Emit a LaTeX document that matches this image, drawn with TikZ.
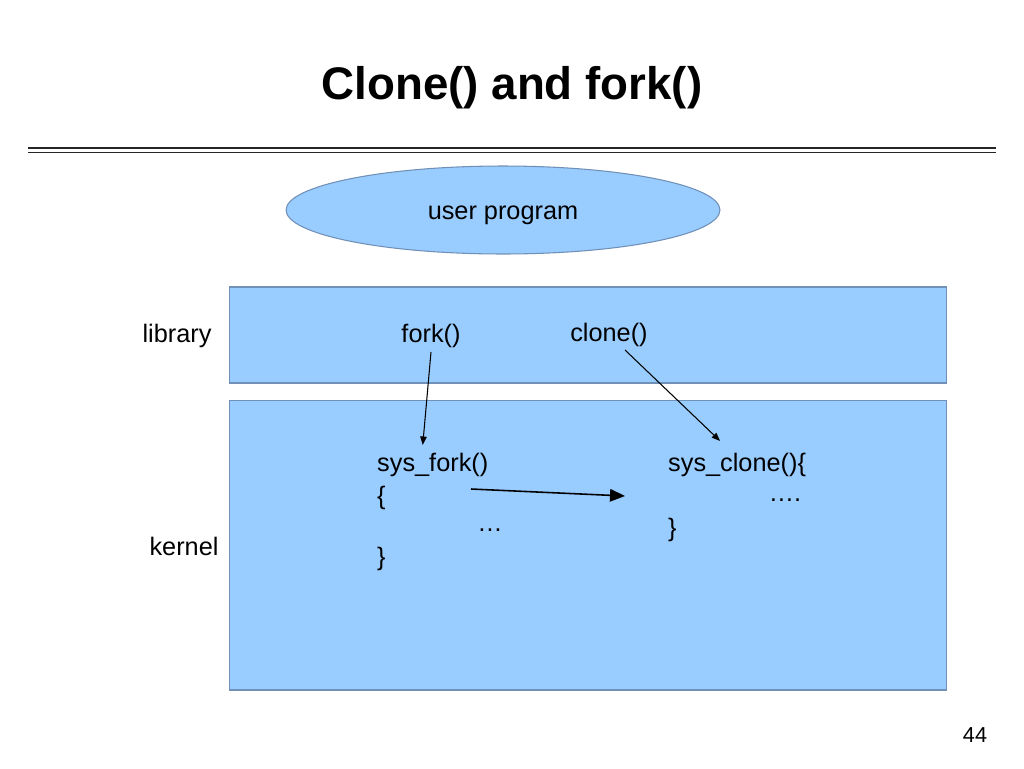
\documentclass[tikz,border=0pt]{standalone}
\usepackage{fontspec}
\setmainfont{Liberation Sans}
\usetikzlibrary{shapes.geometric,arrows.meta,calc}
\definecolor{boxfill}{HTML}{99CCFF}
\definecolor{boxline}{HTML}{7090B8}
\tikzset{
  layer/.style={draw=boxline,fill=boxfill,line width=0.6pt},
  txt/.style={font=\fontsize{14.4}{17}\selectfont},
  call/.style={-{Triangle[length=0.17cm,width=0.13cm]},line width=0.6pt},
}
\begin{document}
\begin{tikzpicture}[x=0.02cm,y=-0.02cm]
  \useasboundingbox (0,0) rectangle (1024,768);
  \node[font=\fontsize{26}{30}\selectfont\bfseries] (title) at (512,88) {Clone() and fork()};
  \draw[line width=1.6pt,black!85] (28,148) -- (996,148);
  \draw[line width=0.8pt,black!85] (28,152.5) -- (996,152.5);
  \node[layer,ellipse,minimum width=8.68cm,minimum height=1.76cm,txt] (user) at (503,210) {};
  \node[txt] (usertxt) at (503,215) {user program};
  \node[layer,minimum width=14.36cm,minimum height=1.92cm] (library) at (588,335) {};
  \node[layer,minimum width=14.36cm,minimum height=5.8cm] (kernel) at (588,545) {};
  \foreach \name/\pos/\text in
{{liblabel/(177,336)/library},{kernlabel/(184,546)/kernel},{fork/(431,336)/fork()},{clone/(609,335)/clone()},{forkdots/(490,530)/…},{clonedots/(785,500)/….}}
    \node[txt] (\name) at \pos {\text};
  \foreach \name/\pos/\text in
{{sysfork/(371,465)/sys\_fork()},{forkopen/(371,498)/\{},{forkclose/(371,559)/\}},{sysclone/(662,465)/sys\_clone()\{},{cloneclose/(662,530)/\}}}
    \node[txt,anchor=west] (\name) at \pos {\text};
  \node[font=\fontsize{12.3}{14}\selectfont] (page) at (975,735) {44};
  \coordinate (callfrom) at (471,489);
  \coordinate (callto) at (625,496);
  \draw[call] ($(fork.south)+(0,-2)$) -- ($(sysfork.north)+(-10,-2)$);
  \draw[call] ($(clone.south)+(16,-3)$) -- ($(sysclone.north)+(-17,-6)$);
  \draw[-{Triangle[length=0.3cm,width=0.25cm]},line width=0.9pt] (callfrom) -- (callto);
\end{tikzpicture}
\end{document}
